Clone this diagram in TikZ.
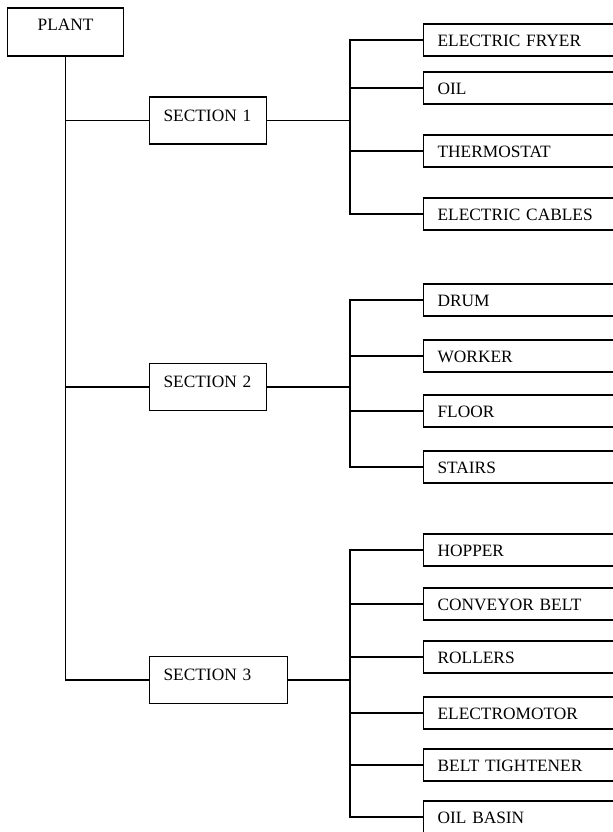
\documentclass[tikz,border=0pt]{standalone}
\usepackage{fontspec}
\setmainfont{Liberation Serif}

\begin{document}
\begin{tikzpicture}[x=0.75pt, y=-0.75pt, line width=0.9pt,
    box/.style={draw, anchor=west, inner ysep=0pt, inner xsep=10.5pt, align=left,
      font=\fontsize{13}{15}\selectfont},
    item/.style={box, text width=220pt, text height=16.5pt, text depth=7.5pt},
    sect/.style={box, text width=66.75pt, text height=18pt, text depth=17.25pt}]
    \useasboundingbox (0,0) rectangle (613,832);
    \clip (0,0) rectangle (613,832);

    % 根节点和三个分区
    \node[box, align=center, text width=66pt, text height=17pt, text depth=19pt] (plant) at (7,32) {PLANT};
    \node[sect] (sec1) at (149,120.5) {SECTION 1};
    \node[sect] (sec2) at (149,387) {SECTION 2};
    \node[sect, text width=82.5pt] (sec3) at (149,680) {SECTION 3};

    % 分区 1 的子节点
    \node[item] (fryer)  at (423,40)  {ELECTRIC FRYER};
    \node[item] (oil)    at (423,88)  {OIL};
    \node[item] (thermo) at (423,151) {THERMOSTAT};
    \node[item] (cables) at (423,214) {ELECTRIC CABLES};

    % 分区 2 的子节点
    \node[item] (drum)   at (423,300) {DRUM};
    \node[item] (worker) at (423,356) {WORKER};
    \node[item] (floor)  at (423,411) {FLOOR};
    \node[item] (stairs) at (423,467) {STAIRS};

    % 分区 3 的子节点
    \node[item] (hopper)    at (423,550) {HOPPER};
    \node[item] (belt)      at (423,604) {CONVEYOR BELT};
    \node[item] (rollers)   at (423,657) {ROLLERS};
    \node[item] (motor)     at (423,713) {ELECTROMOTOR};
    \node[item] (tightener) at (423,765) {BELT TIGHTENER};
    \node[item] (basin)     at (423,817) {OIL BASIN};

    % 汇流点
    \coordinate (bus1) at (350,120.5);
    \coordinate (bus2) at (350,387);
    \coordinate (bus3) at (350,680);

    % 连线
    \draw (plant.south) |- (sec1.west);
    \draw (plant.south) |- (sec2.west);
    \draw (plant.south) |- (sec3.west);
    \draw (sec1.east) -- (bus1);
    \draw (sec2.east) -- (bus2);
    \draw (sec3.east) -- (bus3);
    \foreach \n in {fryer, oil, thermo, cables}
        \draw (bus1) |- (\n.west);
    \foreach \n in {drum, worker, floor, stairs}
        \draw (bus2) |- (\n.west);
    \foreach \n in {hopper, belt, rollers, motor, tightener, basin}
        \draw (bus3) |- (\n.west);
\end{tikzpicture}
\end{document}
